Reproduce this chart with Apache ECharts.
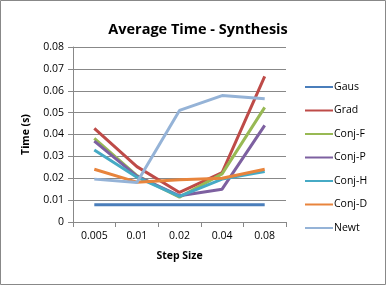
<!DOCTYPE html>
<html><head><meta charset="utf-8">
<script src="https://cdn.jsdelivr.net/npm/echarts@6/dist/echarts.min.js"></script>
<style>html,body{margin:0;padding:0;background:#fff}#c{width:386px;height:285px}</style>
</head><body><div id="c"></div>
<script>
const categories = ['0.005','0.01','0.02','0.04','0.08'];
const yTicks = [0,0.01,0.02,0.03,0.04,0.05,0.06,0.07,0.08];
const seriesNames = ['Gaus','Grad','Conj-F','Conj-P','Conj-H','Conj-D','Newt'];
const gaus  = [0.0079,0.0079,0.0079,0.0079,0.0079];
const grad  = [0.0428,0.0253,0.0135,0.0226,0.0666];
const conjF = [0.0382,0.0212,0.0114,0.0220,0.0524];
const conjP = [0.0370,0.0210,0.0120,0.0150,0.0442];
const conjH = [0.0329,0.0205,0.0117,0.0196,0.0231];
const conjD = [0.0241,0.0182,0.0193,0.0200,0.0241];
const newt  = [0.0196,0.0181,0.0510,0.0578,0.0563];
const values = [gaus,grad,conjF,conjP,conjH,conjD,newt];
const colors = ['#4A7EBB','#BE4B48','#98B954','#7D60A0','#46AAC5','#E8843C','#95B3D7'];
const font = 'Open Sans';
const chart = echarts.init(document.getElementById('c'));
chart.setOption({
  animation:false,
  backgroundColor:'#fff',
  color:colors,
  title:{text:'Average Time - Synthesis',left:193,top:17,textAlign:'center',
    textStyle:{fontFamily:font,fontSize:14.5,fontWeight:'bold',color:'#000'}},
  graphic:[{type:'rect',shape:{x:0.5,y:0.5,width:385,height:284},style:{fill:null,stroke:'#888',lineWidth:1},silent:true}],
  legend:{orient:'vertical',left:300,top:75,itemGap:9.5,itemWidth:28,itemHeight:14,
    icon:'path://M0,6L28,6L28,8L0,8Z',
    textStyle:{fontFamily:font,fontSize:10.5,color:'#000',padding:[0,0,0,-4],height:14,lineHeight:14},
    data:seriesNames},
  grid:{left:73,right:100,top:47,bottom:63,containLabel:false},
  xAxis:{type:'category',data:categories,boundaryGap:true,
    name:'Step Size',nameLocation:'middle',nameGap:29,
    nameTextStyle:{fontFamily:font,fontSize:10.5,fontWeight:'bold',color:'#000'},
    axisLine:{lineStyle:{color:'#888'}},
    axisTick:{show:true,length:5,lineStyle:{color:'#888'},alignWithLabel:false},
    axisLabel:{fontFamily:font,fontSize:10.5,color:'#000',margin:9}},
  yAxis:{type:'value',min:0,max:0.08,interval:0.01,
    name:'Time (s)',nameLocation:'middle',nameGap:41,
    nameTextStyle:{fontFamily:font,fontSize:10.5,fontWeight:'bold',color:'#000'},
    axisLine:{show:true,lineStyle:{color:'#888'}},
    axisTick:{show:true,length:5,lineStyle:{color:'#888'}},
    splitLine:{lineStyle:{color:'#888'}},
    axisLabel:{fontFamily:font,fontSize:10.5,color:'#000',margin:9,
      formatter:v=>{const t=yTicks.find(x=>Math.abs(x-v)<1e-9);return t===0?'0':String(+t.toFixed(2));}}},
  series:seriesNames.map((n,i)=>({name:n,type:'line',data:values[i],symbol:'none',
    lineStyle:{width:3,color:colors[i]},itemStyle:{color:colors[i]}}))
});
</script></body></html>
